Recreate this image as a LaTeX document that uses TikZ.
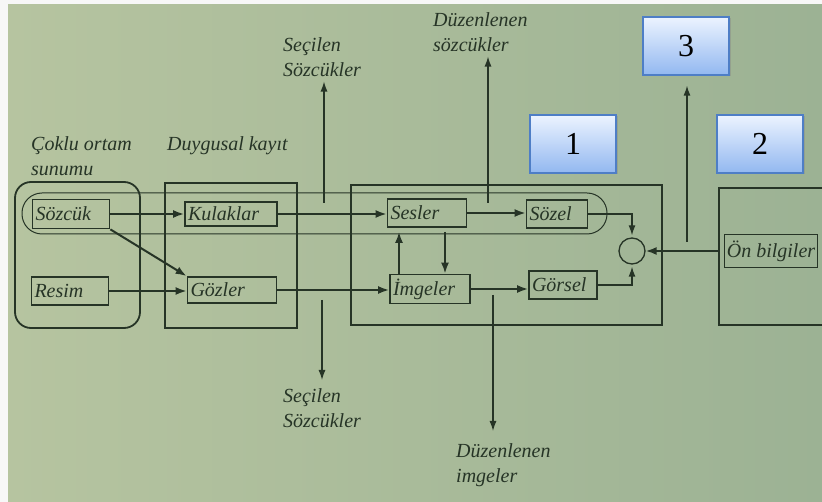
\documentclass[tikz,border=0pt]{standalone}
\usepackage{fontspec}
\setmainfont{Liberation Serif}
\usetikzlibrary{arrows.meta,shadows}
\definecolor{zemin}{RGB}{182,196,160}
\definecolor{zemin2}{RGB}{156,178,148}
\definecolor{cizgi}{RGB}{38,52,38}
\definecolor{kutuust}{RGB}{236,243,255}
\definecolor{kutualt}{RGB}{146,184,240}
\definecolor{kutukenar}{RGB}{78,126,198}
\tikzset{
  kutu/.style={draw=cizgi,line width=1.8pt,inner xsep=3pt,inner ysep=1pt,align=left,font=\fontsize{20}{22}\selectfont\itshape,text=cizgi},
  etiket/.style={align=left,anchor=north west,inner sep=0pt,font=\fontsize{20}{25}\selectfont\itshape,text=cizgi},
  numara/.style={draw=kutukenar,line width=1.2pt,top color=kutuust,bottom color=kutualt,minimum width=86,minimum height=58,font=\fontsize{32}{32}\selectfont,drop shadow={opacity=.35,shadow xshift=1.5pt,shadow yshift=-1.5pt}},
  ok/.style={-{Latex[length=11pt,width=8pt]},line width=2pt,draw=cizgi},
  inceok/.style={-{Latex[length=10pt,width=7pt]},line width=1.3pt,draw=cizgi}
}
\begin{document}
\begin{tikzpicture}[x=1pt,y=-1pt]
\useasboundingbox (0,0) rectangle (822,502);
\fill[white!94!gray] (0,0) rectangle (822,502);
\shade[left color=zemin,right color=zemin2] (8,5) rectangle (822,502);
% cerceveler
\draw[cizgi,line width=1.8pt,rounded corners=16] (15,182) rectangle (140,328);
\draw[cizgi,line width=1.8pt] (165,183) rectangle (297,328);
\draw[cizgi,line width=1.8pt] (351,185) rectangle (662,325);
\draw[cizgi,line width=1.8pt] (822,188)--(719,188)--(719,325)--(822,325);
\draw[cizgi,line width=1pt,rounded corners=20] (22,193) rectangle (607,234);
% kutular
\node[kutu,text width=71,minimum height=29] (sozcuk) at (71,214) {Sözcük};
\node[kutu,text width=71,minimum height=28] (resim) at (70,291) {Resim};
\node[kutu,text width=86,minimum height=24] (kulaklar) at (231,214) {Kulaklar};
\node[kutu,text width=83,minimum height=26] (gozler) at (232,290) {Gözler};
\node[kutu,text width=73,minimum height=28] (sesler) at (427,213) {Sesler};
\node[kutu,text width=55,minimum height=28] (sozel) at (557,214) {Sözel};
\node[kutu,text width=74,minimum height=29] (imgeler) at (430,289) {İmgeler};
\node[kutu,text width=62,minimum height=28] (gorsel) at (563,285) {Görsel};
\node[kutu,inner xsep=1pt,minimum width=93,minimum height=33] (onbilgi) at (771,251) {Ön bilgiler};
\node[circle,draw=cizgi,line width=1.3pt,minimum size=26] (toplam) at (632,251) {};
\coordinate (onsol) at (719,251);
% etiketler
\node[etiket] (coklu) at (31,136) {Çoklu ortam\\sunumu};
\node[etiket] (duygusal) at (167,136) {Duygusal kayıt};
\node[etiket] (secust) at (283,37) {Seçilen\\Sözcükler};
\node[etiket] (duzsoz) at (433,12) {Düzenlenen\\sözcükler};
\node[etiket] (secalt) at (283,388) {Seçilen\\Sözcükler};
\node[etiket] (duzimg) at (456,443) {Düzenlenen\\imgeler};
% numaralar
\node[numara] (bir) at (573,144) {1};
\node[numara] (iki) at (760,144) {2};
\node[numara] (uc) at (686,46) {3};
% oklar
\draw[ok](sozcuk.east)--(kulaklar.west);
\draw[ok](sozcuk.south east)--(gozler.north west);
\draw[ok](resim.east)--(resim.east-|gozler.west);
\draw[ok](kulaklar.east)--(kulaklar.east-|sesler.west);
\draw[ok](gozler.east)--(gozler.east-|imgeler.west);
\draw[ok](sesler.east)--(sesler.east-|sozel.west);
\draw[ok](imgeler.east)--(imgeler.east-|gorsel.west);
\draw[ok,shorten >=4pt]([xshift=-31]imgeler.north)--([xshift=-31]imgeler.north|-sesler.south);
\draw[ok,shorten <=4pt]([xshift=18]sesler.south)--([xshift=18]sesler.south|-imgeler.north);
\draw[inceok,shorten >=2pt](sozel.east)-|(toplam.north);
\draw[inceok,shorten >=2pt](gorsel.east)-|(toplam.south);
\draw[ok](onsol)--(toplam.east);
\coordinate (dal) at (687,242);
\draw[inceok,shorten >=10pt](dal)--(dal|-uc.south);
\coordinate (c1) at (488,203);
\draw[inceok,shorten >=5pt](c1)--(c1|-duzsoz.south);
\coordinate (c2) at (493,295);
\draw[inceok,shorten >=12pt](c2)--(c2|-duzimg.north);
\coordinate (c3) at (324,203);
\draw[inceok,shorten >=5pt](c3)--(c3|-secust.south);
\coordinate (c4) at (322,300);
\draw[inceok,shorten >=8pt](c4)--(c4|-secalt.north);
\end{tikzpicture}
\end{document}
